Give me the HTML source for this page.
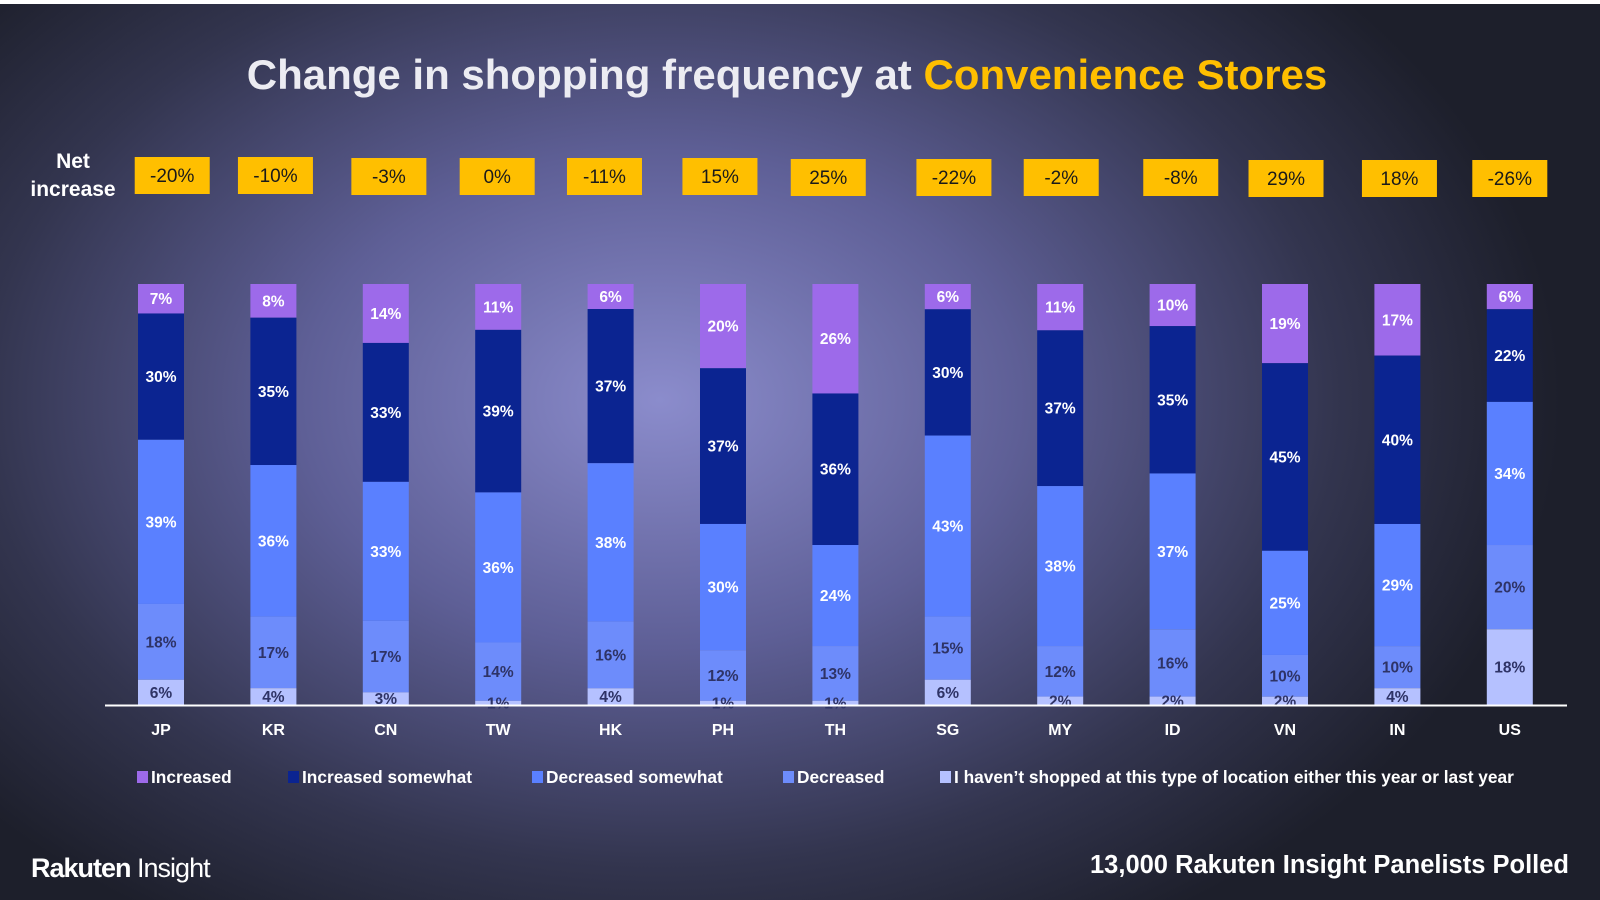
<!DOCTYPE html>
<html><head><meta charset="utf-8"><style>
html,body{margin:0;padding:0}
body{width:1600px;height:900px;overflow:hidden;font-family:"Liberation Sans",sans-serif;
background:radial-gradient(ellipse 900px 620px at 660px 400px,#8b8ccc 0%,#5e5f96 40%,#33354f 75%,#1d1f2b 100%);position:relative}
#topline{position:absolute;left:0;top:0;width:1600px;height:4px;background:#fff}
svg{position:absolute;left:0;top:0}
</style></head><body>
<div id="topline"></div>
<svg id="chart" width="1600" height="900">
<text x="787" y="89" text-anchor="middle" font-size="42" font-weight="bold" fill="#ececf2">Change in shopping frequency at <tspan fill="#ffbf00">Convenience Stores</tspan></text>
<text x="73" y="168" text-anchor="middle" font-size="21" font-weight="bold" fill="#fff">Net</text>
<text x="73" y="196" text-anchor="middle" font-size="21" font-weight="bold" fill="#fff">increase</text>
<g id="bars"></g>
<g id="nets"></g>
<line x1="105" y1="705.5" x2="1567" y2="705.5" stroke="#fff" stroke-width="2"/>
<g id="legend"></g>
<text x="31" y="877" font-size="27" font-weight="bold" fill="#fff" letter-spacing="-1">Rakuten<tspan font-weight="normal"> Insight</tspan></text>
<text x="1569" y="873" text-anchor="end" font-size="25.5" font-weight="bold" fill="#fff">13,000  Rakuten Insight Panelists Polled</text>
</svg>
<script>
const categories=["JP","KR","CN","TW","HK","PH","TH","SG","MY","ID","VN","IN","US"];
const increased=[7,8,14,11,6,20,26,6,11,10,19,17,6];
const increasedSomewhat=[30,35,33,39,37,37,36,30,37,35,45,40,22];
const decreasedSomewhat=[39,36,33,36,38,30,24,43,38,37,25,29,34];
const decreased=[18,17,17,14,16,12,13,15,12,16,10,10,20];
const notShopped=[6,4,3,1,4,1,1,6,2,2,2,4,18];
const netIncrease=[-20,-10,-3,0,-11,15,25,-22,-2,-8,29,18,-26];
const seriesNames=["Increased","Increased somewhat","Decreased somewhat","Decreased","I haven\u2019t shopped at this type of location either this year or last year"];
const NS="http://www.w3.org/2000/svg";
const series=[increased,increasedSomewhat,decreasedSomewhat,decreased,notShopped];
const colors=["#9d6aea","#0b2491","#5a80ff","#6d8cfb","#b5c1ff"];
const textCol=["#fff","#fff","#fff","#2e3366","#2e3366"];
const keys=["increased","increased-somewhat","decreased-somewhat","decreased","not-shopped"];
const boxOffset=[11,2,3,-1,-6,-3,-7,6,1,8,1,2,0];
const top0=284,base=705,x0=161,step=112.4,bw=46;
const xPos=i=>x0+i*step;
function mk(tag,attrs,parent){const e=document.createElementNS(NS,tag);for(const k in attrs)e.setAttribute(k,attrs[k]);parent.appendChild(e);return e;}
const gB=document.getElementById('bars'),gN=document.getElementById('nets'),gL=document.getElementById('legend');
categories.forEach((c,i)=>{
  let total=0;series.forEach(s=>total+=s[i]);
  const scale=(base-top0)/total;
  let y=top0;
  series.forEach((s,k)=>{
    const h=s[i]*scale;
    const r=mk('rect',{x:xPos(i)-bw/2,y:y,width:bw,height:h,fill:colors[k]},gB);
    
    
    const t=mk('text',{x:xPos(i),y:y+h/2+5.5,'text-anchor':'middle','font-size':15.5,'font-weight':'bold',fill:textCol[k]},gB);
    t.textContent=s[i]+'%';
    
    
    y+=h;
  });
  const ct=mk('text',{x:xPos(i),y:735,'text-anchor':'middle','font-size':16,'font-weight':'bold',fill:'#fff'},gB);
  ct.textContent=c;
  
  
  const bx=xPos(i)+boxOffset[i]*1.02;
  const by=157+Math.round(i/4);
  const nr=mk('rect',{x:bx-37.5,y:by,width:75,height:37,fill:'#ffbf00'},gN);
  
  
  const nt=mk('text',{x:bx,y:by+25,'text-anchor':'middle','font-size':19,fill:'#1a1a1a'},gN);
  nt.textContent=netIncrease[i]+'%';
  
  
});
const lx=[137,288,532,783,940];
seriesNames.forEach((n,k)=>{
  const g=mk('g',{},gL);
  
  
  mk('rect',{x:lx[k],y:771,width:11,height:12,fill:colors[k]},g);
  const t=mk('text',{x:lx[k]+14,y:783,'font-size':17.3,'font-weight':'bold',fill:'#fff'},g);
  t.textContent=n;
});
</script>
</body></html>
